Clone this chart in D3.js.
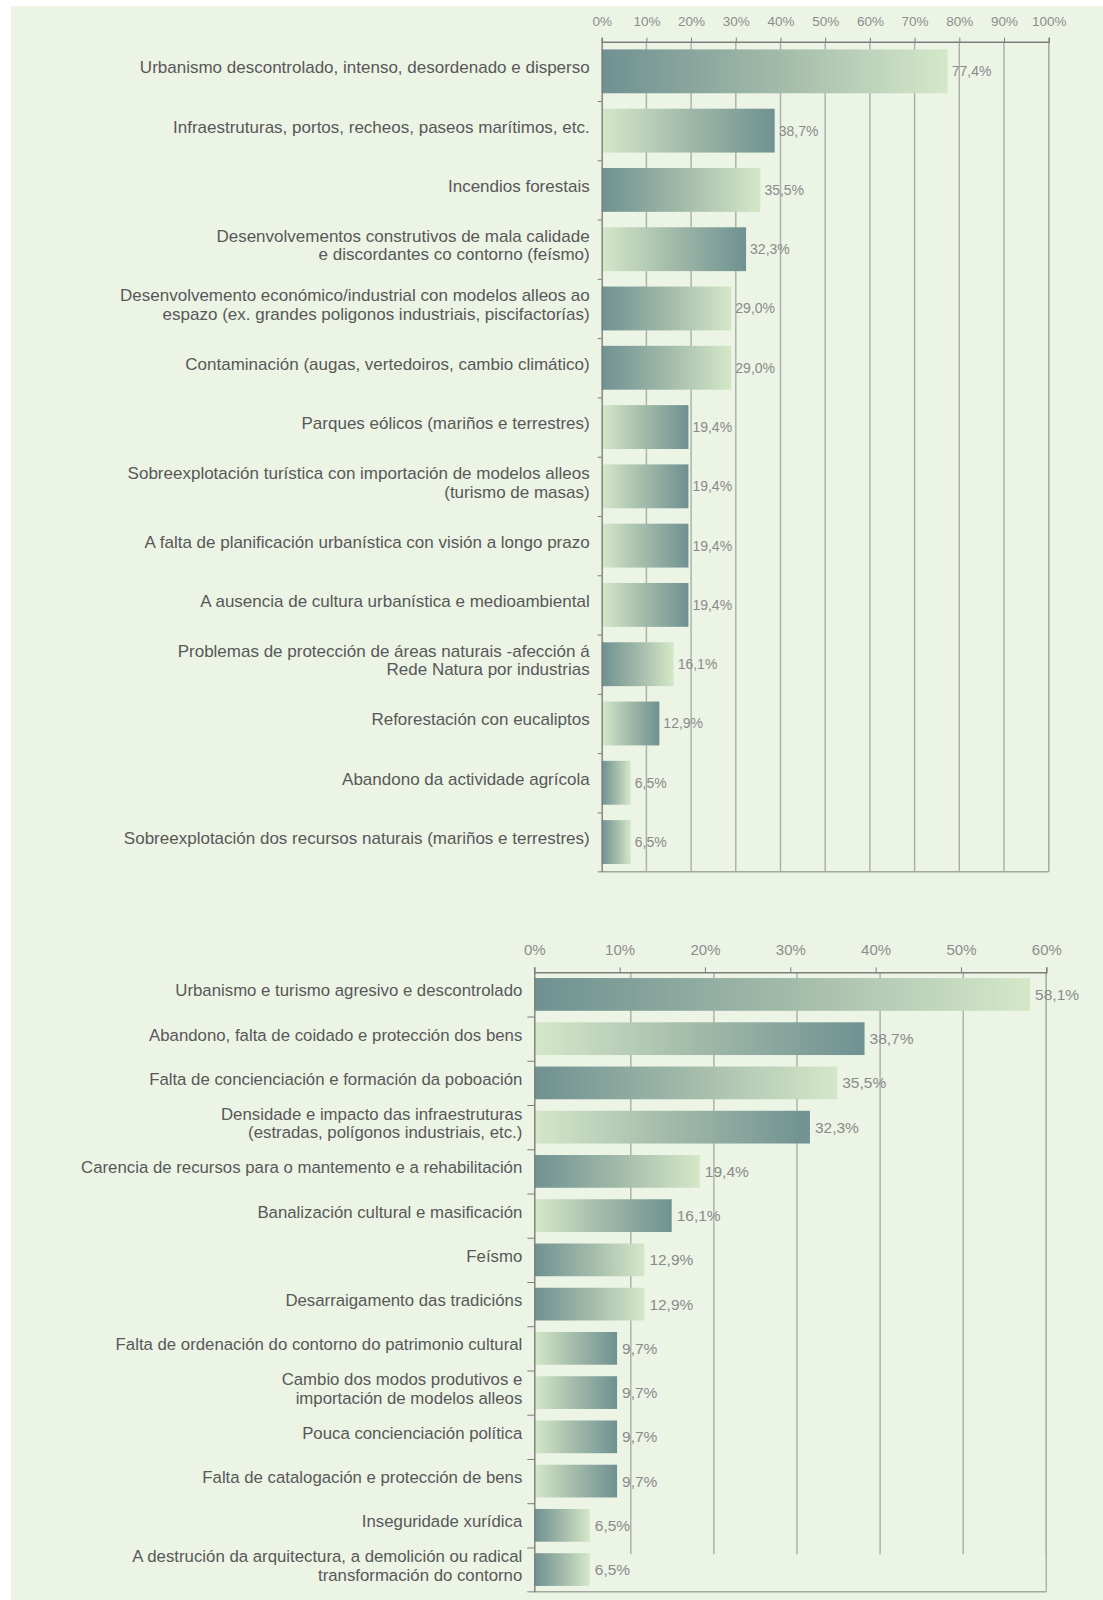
<!DOCTYPE html>
<html>
<head>
<meta charset="utf-8">
<script src="https://cdn.jsdelivr.net/npm/d3@7/dist/d3.min.js"></script>
<style>
  body { margin: 0; background: #fff; }
  text { font-family: "Liberation Sans", Arial, sans-serif; }
</style>
</head>
<body>
<div id="chart"></div>
<script>
// landscape threats (top chart)
var landLabels = [
  "Urbanismo descontrolado, intenso, desordenado e disperso",
  "Infraestruturas, portos, recheos, paseos marítimos, etc.",
  "Incendios forestais",
  "Desenvolvementos construtivos de mala calidade\ne discordantes co contorno (feísmo)",
  "Desenvolvemento económico/industrial con modelos alleos ao\nespazo (ex. grandes poligonos industriais, piscifactorías)",
  "Contaminación (augas, vertedoiros, cambio climático)",
  "Parques eólicos (mariños e terrestres)",
  "Sobreexplotación turística con importación de modelos alleos\n(turismo de masas)",
  "A falta de planificación urbanística con visión a longo prazo",
  "A ausencia de cultura urbanística e medioambiental",
  "Problemas de protección de áreas naturais -afección á\nRede Natura por industrias",
  "Reforestación con eucaliptos",
  "Abandono da actividade agrícola",
  "Sobreexplotación dos recursos naturais (mariños e terrestres)"
];
var landValues = [77.4, 38.7, 35.5, 32.3, 29.0, 29.0, 19.4, 19.4, 19.4, 19.4, 16.1, 12.9, 6.5, 6.5];
var landTicks = [0, 10, 20, 30, 40, 50, 60, 70, 80, 90, 100];
// which bars have the light end on the left
var landFlip = [false, true, false, true, false, false, true, true, true, true, false, true, false, false];

// cultural heritage threats (bottom chart)
var heritageLabels = [
  "Urbanismo e turismo agresivo e descontrolado",
  "Abandono, falta de coidado e protección dos bens",
  "Falta de concienciación e formación da poboación",
  "Densidade e impacto das infraestruturas\n(estradas, polígonos industriais, etc.)",
  "Carencia de recursos para o mantemento e a rehabilitación",
  "Banalización cultural e masificación",
  "Feísmo",
  "Desarraigamento das tradicións",
  "Falta de ordenación do contorno do patrimonio cultural",
  "Cambio dos modos produtivos e\nimportación de modelos alleos",
  "Pouca concienciación política",
  "Falta de catalogación e protección de bens",
  "Inseguridade xurídica",
  "A destrución da arquitectura, a demolición ou radical\ntransformación do contorno"
];
var heritageValues = [58.1, 38.7, 35.5, 32.3, 19.4, 16.1, 12.9, 12.9, 9.7, 9.7, 9.7, 9.7, 6.5, 6.5];
var heritageTicks = [0, 10, 20, 30, 40, 50, 60];
var heritageFlip = [false, true, false, true, false, true, false, false, true, true, true, true, false, false];

var svg = d3.select("#chart").append("svg")
  .attr("width", 1103)
  .attr("height", 1600);

svg.append("rect")
  .attr("x", 11).attr("y", 6)
  .attr("width", 1092).attr("height", 1594)
  .attr("fill", "#ecf4e6");

var defs = svg.append("defs");
function addGradient(id, stops) {
  var g = defs.append("linearGradient").attr("id", id)
    .attr("x1", "0%").attr("x2", "100%").attr("y1", "0%").attr("y2", "0%");
  stops.forEach(function(s) {
    g.append("stop").attr("offset", s[0]).attr("stop-color", s[1]);
  });
}
addGradient("darkLeft", [["0%", "#6f9191"], ["50%", "#a1b9a9"], ["100%", "#d4e8c8"]]);
addGradient("lightLeft", [["0%", "#d4e8c8"], ["50%", "#a1b9a9"], ["100%", "#6f9191"]]);

var fmt = d3.format(".1f");

function drawChart(c) {
  var g = svg.append("g");

  var x = d3.scaleLinear().domain([0, c.max]).range([c.left, c.right]);
  var y = d3.scaleBand().domain(d3.range(c.values.length))
    .range([c.top, c.bottom])
    .paddingInner(0.26)
    .paddingOuter(0.13);
  var rows = d3.scaleLinear().domain([0, c.values.length]).range([c.top, c.bottom]);

  // grid (the bottom chart's grid is drawn a bit off in the original)
  var gx = d3.scaleLinear().domain([0, c.max]).range([c.gridLeft, c.right]);
  g.append("g").selectAll("line")
    .data(c.ticks.slice(1))
    .enter().append("line")
    .attr("x1", d => gx(d)).attr("x2", d => gx(d))
    .attr("y1", c.top).attr("y2", c.gridBottom)
    .attr("stroke", "#a9aea7")
    .attr("stroke-width", 1.4);

  // right and bottom border
  g.append("line")
    .attr("x1", c.right).attr("x2", c.right)
    .attr("y1", c.top).attr("y2", c.bottom)
    .attr("stroke", "#a9aea7").attr("stroke-width", 1.4);
  g.append("line")
    .attr("x1", c.left - c.leftTick).attr("x2", c.right)
    .attr("y1", c.bottom).attr("y2", c.bottom)
    .attr("stroke", "#a4a8a2").attr("stroke-width", 1.4);

  // bars
  g.append("g").selectAll("rect")
    .data(c.values)
    .enter().append("rect")
    .attr("x", x(0))
    .attr("y", (d, i) => y(i))
    .attr("width", d => x(d) - x(0))
    .attr("height", y.bandwidth())
    .attr("fill", (d, i) => c.flip[i] ? "url(#lightLeft)" : "url(#darkLeft)");

  // value labels
  g.append("g").selectAll("text")
    .data(c.values)
    .enter().append("text")
    .attr("x", d => x(d) + c.valueGap)
    .attr("y", (d, i) => y(i) + y.bandwidth() / 2)
    .attr("dy", "0.35em")
    .attr("fill", "#8a8a8a")
    .style("font-size", c.valueFont)
    .text(d => fmt(d).replace(".", ",") + "%");

  // top axis
  var xAxis = g.append("g")
    .attr("transform", `translate(0, ${c.top})`)
    .call(d3.axisTop(x).tickValues(c.ticks).tickSize(c.topTick)
      .tickPadding(c.tickPad).tickFormat(d => d + "%"));
  xAxis.select(".domain").attr("stroke", "#7d7d7d").attr("stroke-width", 1.4);
  xAxis.selectAll(".tick line").attr("stroke", "#7d7d7d");
  xAxis.selectAll("text")
    .attr("fill", "#8c8c8c")
    .style("font-size", c.tickFont)
    .style("font-family", "'Liberation Sans', Arial, sans-serif");

  // left axis, ticks between rows
  var yAxis = g.append("g")
    .attr("transform", `translate(${c.left}, 0)`)
    .call(d3.axisLeft(rows).tickValues(d3.range(1, c.values.length))
      .tickSize(c.leftTick).tickSizeOuter(0).tickFormat(""));
  yAxis.select(".domain").attr("stroke", "#7d7d7d").attr("stroke-width", 1.4);
  yAxis.selectAll(".tick line").attr("stroke", "#7d7d7d");

  // category labels
  var lineH = 18.5;
  var labels = g.append("g").selectAll("text")
    .data(c.labels)
    .enter().append("text")
    .attr("text-anchor", "end")
    .attr("fill", "#585858")
    .style("font-size", c.labelFont)
    .attr("transform", (d, i) => `translate(${c.left - 12}, ${y(i) + y.bandwidth() / 2 - 4})`);
  labels.each(function(d) {
    var lines = d.split("\n");
    var t = d3.select(this);
    lines.forEach(function(line, k) {
      t.append("tspan")
        .attr("x", 0)
        .attr("y", (k - (lines.length - 1) / 2) * lineH)
        .attr("dy", "0.35em")
        .text(line);
    });
  });
}

drawChart({
  labels: landLabels, values: landValues, ticks: landTicks, flip: landFlip,
  max: 100, left: 601.7, right: 1048.7, top: 41.7, bottom: 871.7,
  gridLeft: 601.7, gridBottom: 871.7,
  topTick: 4, leftTick: 4, tickPad: 12, tickFont: "13.5px",
  valueFont: "14px", valueGap: 4, labelFont: "17px"
});

drawChart({
  labels: heritageLabels, values: heritageValues, ticks: heritageTicks, flip: heritageFlip,
  max: 60, left: 534.3, right: 1046.3, top: 972.3, bottom: 1591.7,
  gridLeft: 547.7, gridBottom: 1554.3,
  topTick: 5, leftTick: 7, tickPad: 12, tickFont: "15px",
  valueFont: "15.5px", valueGap: 5, labelFont: "16.8px"
});
</script>
</body>
</html>
